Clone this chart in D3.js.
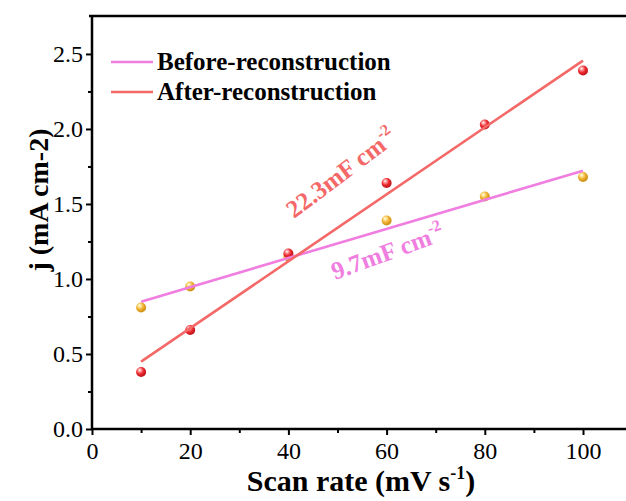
<!DOCTYPE html>
<html>
<head>
<meta charset="utf-8">
<script src="https://cdn.jsdelivr.net/npm/d3@7"></script>
<style>
  html, body { margin: 0; padding: 0; background: #fff; }
  svg { display: block; font-family: "Liberation Serif", "Times New Roman", serif; }
</style>
</head>
<body>
<svg id="chart" width="626" height="501"></svg>
<script>
// Scan rates (mV s^-1)
const scanRates = [10, 20, 40, 60, 80, 100];
// Current density j (mA cm^-2)
const beforeValues = [0.81, 0.95, 1.15, 1.39, 1.55, 1.68];
const afterValues  = [0.38, 0.66, 1.17, 1.64, 2.03, 2.39];
// Linear fits: slope in mA cm^-2 per mV s^-1 (= capacitance in F cm^-2)
const seriesNames  = ["Before-reconstruction", "After-reconstruction"];
const fitSlopes     = [0.0097, 0.0223];
const fitIntercepts = [0.752, 0.226];
const fitLabels     = ["9.7mF cm", "22.3mF cm"];
const xTicks = [0, 20, 40, 60, 80, 100];
const yTicks = [0.0, 0.5, 1.0, 1.5, 2.0, 2.5];

const lineColors = ["#f07ee0", "#f46868"];
const dotColors = [
  { hi: "#ffe9a0", mid: "#eeb030", lo: "#c88a10" },
  { hi: "#ffb0b0", mid: "#ec2a30", lo: "#b81016" }
];

const svg = d3.select("#chart");
const x = d3.scaleLinear().domain([0, 110]).range([92, 92 + 110 * 4.91]);
const y = d3.scaleLinear().domain([0, 2.753]).range([429, 16]);

// sphere-like gradients for the markers
const defs = svg.append("defs");
dotColors.forEach((c, i) => {
  const g = defs.append("radialGradient").attr("id", "ball" + i)
    .attr("cx", "40%").attr("cy", "38%").attr("r", "65%").attr("fx", "35%").attr("fy", "30%");
  g.append("stop").attr("offset", "0%").attr("stop-color", "#ffffff");
  g.append("stop").attr("offset", "18%").attr("stop-color", c.hi);
  g.append("stop").attr("offset", "55%").attr("stop-color", c.mid);
  g.append("stop").attr("offset", "100%").attr("stop-color", c.lo);
});

// axes
const xAxis = d3.axisBottom(x).tickValues(xTicks).tickFormat(d3.format("d")).tickSize(6).tickPadding(7);
const xMinor = d3.axisBottom(x).tickValues(d3.range(10, 111, 20)).tickFormat("").tickSize(4);
const yAxis = d3.axisLeft(y).tickValues(yTicks).tickFormat(d3.format(".1f")).tickSize(6).tickPadding(3);
const yMinor = d3.axisLeft(y).tickValues(d3.range(0.25, 2.7, 0.5)).tickFormat("").tickSize(4);

function styleAxis(g) {
  g.select(".domain").remove();
  g.selectAll(".tick line").attr("stroke", "#000").attr("stroke-width", 2);
  g.selectAll(".tick text").attr("fill", "#000").style("font-size", "24px")
    .style("font-family", "'Liberation Serif', serif");
}

svg.append("g").attr("transform", "translate(0,429)").call(xAxis).call(styleAxis);
svg.append("g").attr("transform", "translate(0,429)").call(xMinor).call(styleAxis);
svg.append("g").attr("transform", "translate(92,0)").call(yAxis).call(styleAxis);
svg.append("g").attr("transform", "translate(92,0)").call(yMinor).call(styleAxis);

// frame lines
svg.append("line").attr("x1", 92).attr("x2", 626).attr("y1", 429).attr("y2", 429)
  .attr("stroke", "#000").attr("stroke-width", 2.5);
svg.append("line").attr("x1", 92).attr("x2", 92).attr("y1", 16).attr("y2", 430)
  .attr("stroke", "#000").attr("stroke-width", 2.5);
svg.append("line").attr("x1", 89).attr("x2", 626).attr("y1", 16).attr("y2", 16)
  .attr("stroke", "#000").attr("stroke-width", 2.5);

// markers
[beforeValues, afterValues].forEach((vals, i) => {
  svg.append("g").selectAll("circle").data(vals).join("circle")
    .attr("cx", (d, k) => x(scanRates[k]))
    .attr("cy", d => y(d))
    .attr("r", 5)
    .attr("fill", `url(#ball${i})`);
});

// fitted lines
const xMin = d3.min(scanRates), xMax = d3.max(scanRates);
fitSlopes.forEach((m, i) => {
  const b = fitIntercepts[i];
  svg.append("line")
    .attr("x1", x(xMin)).attr("y1", y(b + m * xMin))
    .attr("x2", x(xMax)).attr("y2", y(b + m * xMax))
    .attr("stroke", lineColors[i]).attr("stroke-width", 2.6);
});

// slope annotations
const annot = [
  { i: 0, px: 335, py: 280, angle: -20 },
  { i: 1, px: 294, py: 219, angle: -37 }
];
annot.forEach(a => {
  const t = svg.append("text")
    .attr("transform", `translate(${a.px},${a.py}) rotate(${a.angle})`)
    .attr("fill", lineColors[a.i])
    .style("font-size", "25px").style("font-weight", "bold");
  t.append("tspan").text(fitLabels[a.i]);
  t.append("tspan").attr("dy", -11).style("font-size", "16px").text("-2");
});

// legend
seriesNames.forEach((name, i) => {
  const ly = 62 + i * 30;
  svg.append("line").attr("x1", 111).attr("x2", 153).attr("y1", ly).attr("y2", ly)
    .attr("stroke", lineColors[i]).attr("stroke-width", 2.6);
  svg.append("text").attr("x", 157).attr("y", ly + 8)
    .attr("fill", "#000").style("font-size", "25px").style("font-weight", "bold")
    .text(name);
});

// axis titles
const xt = svg.append("text").attr("x", 361).attr("y", 491).attr("text-anchor", "middle")
  .style("font-size", "30px").style("font-weight", "bold").attr("fill", "#000");
xt.append("tspan").text("Scan rate (mV s");
xt.append("tspan").attr("dy", -12).style("font-size", "18px").text("-1");
xt.append("tspan").attr("dy", 12).text(")");

svg.append("text").attr("transform", "translate(48,200) rotate(-90)").attr("text-anchor", "middle")
  .style("font-size", "28px").style("font-weight", "bold").attr("fill", "#000")
  .text("j (mA cm-2)");
</script>
</body>
</html>
